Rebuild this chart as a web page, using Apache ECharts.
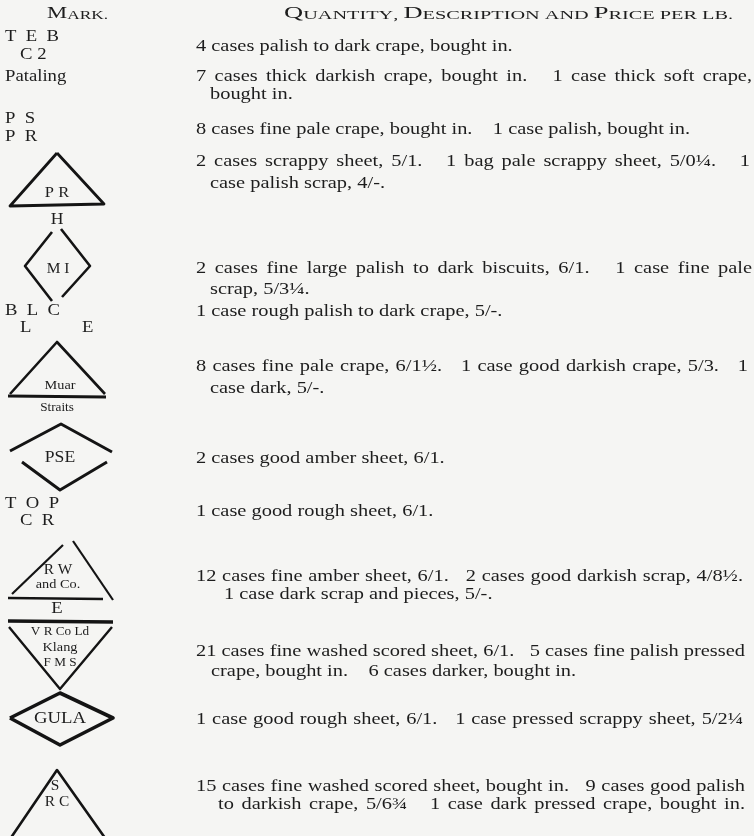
<!DOCTYPE html>
<html>
<head>
<meta charset="utf-8">
<script src="https://cdn.jsdelivr.net/npm/echarts@6/dist/echarts.min.js"></script>
<style>
  html, body { margin: 0; padding: 0; background: #f5f5f3; }
  #main { width: 754px; height: 836px; }
</style>
</head>
<body>
<div id="main"></div>
<script>
// ---- content of the page ----
const headings = ['Mark.', 'Quantity, Description and Price per lb.'];

const markLabels = [
  ['T  E  B', 'C 2'],
  ['Pataling'],
  ['P  S', 'P  R'],
  ['P R', 'H'],
  ['M I'],
  ['B  L  C', 'L', 'E'],
  ['Muar', 'Straits'],
  ['PSE'],
  ['T  O  P', 'C  R'],
  ['R W', 'and Co.', 'E'],
  ['V R Co Ld', 'Klang', 'F M S'],
  ['GULA'],
  ['S', 'R C']
];

// two or more spaces mark a sentence gap
const descriptions = [
  ['4 cases palish to dark crape, bought in.'],
  ['7 cases thick darkish crape, bought in.  1 case thick soft crape,', 'bought in.'],
  ['8 cases fine pale crape, bought in.    1 case palish, bought in.'],
  ['2 cases scrappy sheet, 5/1.  1 bag pale scrappy sheet, 5/0¼.  1', 'case palish scrap, 4/-.'],
  ['2 cases fine large palish to dark biscuits, 6/1.  1 case fine pale', 'scrap, 5/3¼.'],
  ['1 case rough palish to dark crape, 5/-.'],
  ['8 cases fine pale crape, 6/1½.  1 case good darkish crape, 5/3.  1', 'case dark, 5/-.'],
  ['2 cases good amber sheet, 6/1.'],
  ['1 case good rough sheet, 6/1.'],
  ['12 cases fine amber sheet, 6/1.  2 cases good darkish scrap, 4/8½.', '1 case dark scrap and pieces, 5/-.'],
  ['21 cases fine washed scored sheet, 6/1.  5 cases fine palish pressed', 'crape, bought in.    6 cases darker, bought in.'],
  ['1 case good rough sheet, 6/1.  1 case pressed scrappy sheet, 5/2¼'],
  ['15 cases fine washed scored sheet, bought in.  9 cases good palish', 'to darkish crape, 5/6¾  1 case dark pressed crape, bought in.']
];

// ---- layout (positions only) ----
// labels: [x, y, size, align]; desc: centres of the description lines
const layout = [
  { labels: [[5, 37, 17], [20, 55, 17]], desc: [47] },
  { labels: [[5, 77, 17]], desc: [77, 95], indent: 210, right: 752 },
  { labels: [[5, 119, 17], [5, 137, 17]], desc: [130] },
  { labels: [[57, 193, 15, 'c'], [57, 220, 16, 'c']], desc: [162, 184], indent: 210, right: 750,
    shape: [{ pts: [[57, 153], [104, 204], [10, 206], [57, 153]], w: 2.8 }] },
  { labels: [[58, 269, 14, 'c']], desc: [269, 290], indent: 210, right: 752,
    shape: [{ pts: [[52, 232], [25, 266], [52, 301]], w: 2.6 }, { pts: [[61, 229], [90, 266], [62, 297]], w: 2.6 }] },
  { labels: [[5, 311, 17], [20, 328, 17], [82, 328, 17]], desc: [312] },
  { labels: [[60, 386, 13, 'c'], [57, 408, 12, 'c']], desc: [367, 389], indent: 210, right: 748,
    shape: [{ pts: [[10, 394], [57, 342], [105, 394]], w: 2.6 }, { pts: [[8, 396], [106, 397]], w: 3.2 }] },
  { labels: [[60, 458, 16, 'c']], desc: [459],
    shape: [{ pts: [[10, 451], [61, 424], [112, 452]], w: 3 }, { pts: [[22, 462], [60, 490], [107, 462]], w: 3 }] },
  { labels: [[5, 504, 17], [20, 521, 17]], desc: [512] },
  { labels: [[58, 570, 14, 'c'], [58, 585, 13, 'c'], [57, 609, 17, 'c']], desc: [577, 595], indent: 224, right: 743,
    shape: [{ pts: [[12, 594], [63, 545]], w: 2.2 }, { pts: [[73, 541], [113, 600]], w: 2.2 }, { pts: [[8, 598], [103, 599]], w: 2.6 }] },
  { labels: [[60, 632, 12, 'c'], [60, 648, 13, 'c'], [60, 663, 12, 'c']], desc: [652, 672], indent: 211, right: 745,
    shape: [{ pts: [[8, 621], [113, 622]], w: 3.4 }, { pts: [[9, 627], [60, 689], [112, 627]], w: 2.4 }] },
  { labels: [[60, 719, 17, 'c']], desc: [720], right: 743, justifyLast: true,
    shape: [{ pts: [[10, 718], [60, 693], [113, 718], [60, 745], [10, 718]], w: 3.6 }] },
  { labels: [[55, 786, 14, 'c'], [57, 802, 14, 'c']], desc: [787, 805], indent: 218, right: 745, justifyLast: true,
    shape: [{ pts: [[6, 845], [57, 770], [110, 845]], w: 2.6 }] }
];

const INK = '#1d1d1d';
const FONT = '"Liberation Serif", serif';
const DESC_SIZE = 17;
const STRETCH = 1.2;
const MARK_STRETCH = 1.1;
const DESC_X = 196;

const ctx = document.createElement('canvas').getContext('2d');
function measure(text, size) {
  ctx.font = size + 'px ' + FONT;
  return ctx.measureText(text).width;
}

const elements = [];

function textEl(text, x, y, size, align, stretch) {
  return {
    type: 'text', x: x, y: y, scaleX: stretch || STRETCH, silent: true,
    style: { text: text, font: size + 'px ' + FONT, fill: INK, align: align || 'left', verticalAlign: 'middle' }
  };
}

// small caps heading: capitals big, other letters small capitals
function smallCaps(text, x, y, right, big, small) {
  let rich = '', width = 0;
  for (const ch of text) {
    const isBig = ch !== ch.toLowerCase();
    const c = isBig ? ch : ch.toUpperCase();
    rich += '{' + (isBig ? 'b' : 's') + '|' + c + '}';
    width += measure(c, isBig ? big : small);
  }
  elements.push({
    type: 'text', x: x, y: y, scaleX: (right - x) / width, silent: true,
    style: {
      text: rich, fill: INK, verticalAlign: 'bottom',
      rich: {
        b: { font: big + 'px ' + FONT, fill: INK, verticalAlign: 'bottom' },
        s: { font: small + 'px ' + FONT, fill: INK, verticalAlign: 'bottom' }
      }
    }
  });
}

smallCaps(headings[0], 47, 22, 108, 17, 13);
smallCaps(headings[1], 284, 22, 733, 17, 13);

// description line, optionally justified to a right edge
function descLine(text, x, y, right) {
  if (!right) { elements.push(textEl(text, x, y, DESC_SIZE)); return; }
  const parts = text.trim().split(/(\s+)/);
  const words = parts.filter((p, i) => i % 2 === 0);
  const weights = parts.filter((p, i) => i % 2 === 1).map(g => g.length > 1 ? 3 : 1);
  const widths = words.map(w => measure(w, DESC_SIZE) * STRETCH);
  const total = widths.reduce((a, b) => a + b, 0);
  const unit = Math.max(3, (right - x - total) / weights.reduce((a, b) => a + b, 0));
  let cx = x;
  words.forEach((w, i) => {
    elements.push(textEl(w, cx, y, DESC_SIZE));
    cx += widths[i] + (i < weights.length ? weights[i] * unit : 0);
  });
}

layout.forEach((row, r) => {
  (row.shape || []).forEach(s => {
    elements.push({
      type: 'polyline', silent: true,
      shape: { points: s.pts },
      style: { stroke: '#141414', lineWidth: s.w, fill: null, lineJoin: 'round', lineCap: 'butt' }
    });
  });
  markLabels[r].forEach((lab, i) => {
    const p = row.labels[i];
    elements.push(textEl(lab, p[0], p[1], p[2], p[3] === 'c' ? 'center' : 'left', MARK_STRETCH));
  });
  const lines = descriptions[r];
  lines.forEach((line, i) => {
    const last = i === lines.length - 1;
    const x = i === 0 ? DESC_X : row.indent;
    const right = (!last || row.justifyLast) ? row.right : 0;
    descLine(line, x, row.desc[i], right);
  });
});

const chart = echarts.init(document.getElementById('main'));
chart.setOption({
  backgroundColor: '#f5f5f3',
  animation: false,
  graphic: { elements: elements }
});
</script>
</body>
</html>
